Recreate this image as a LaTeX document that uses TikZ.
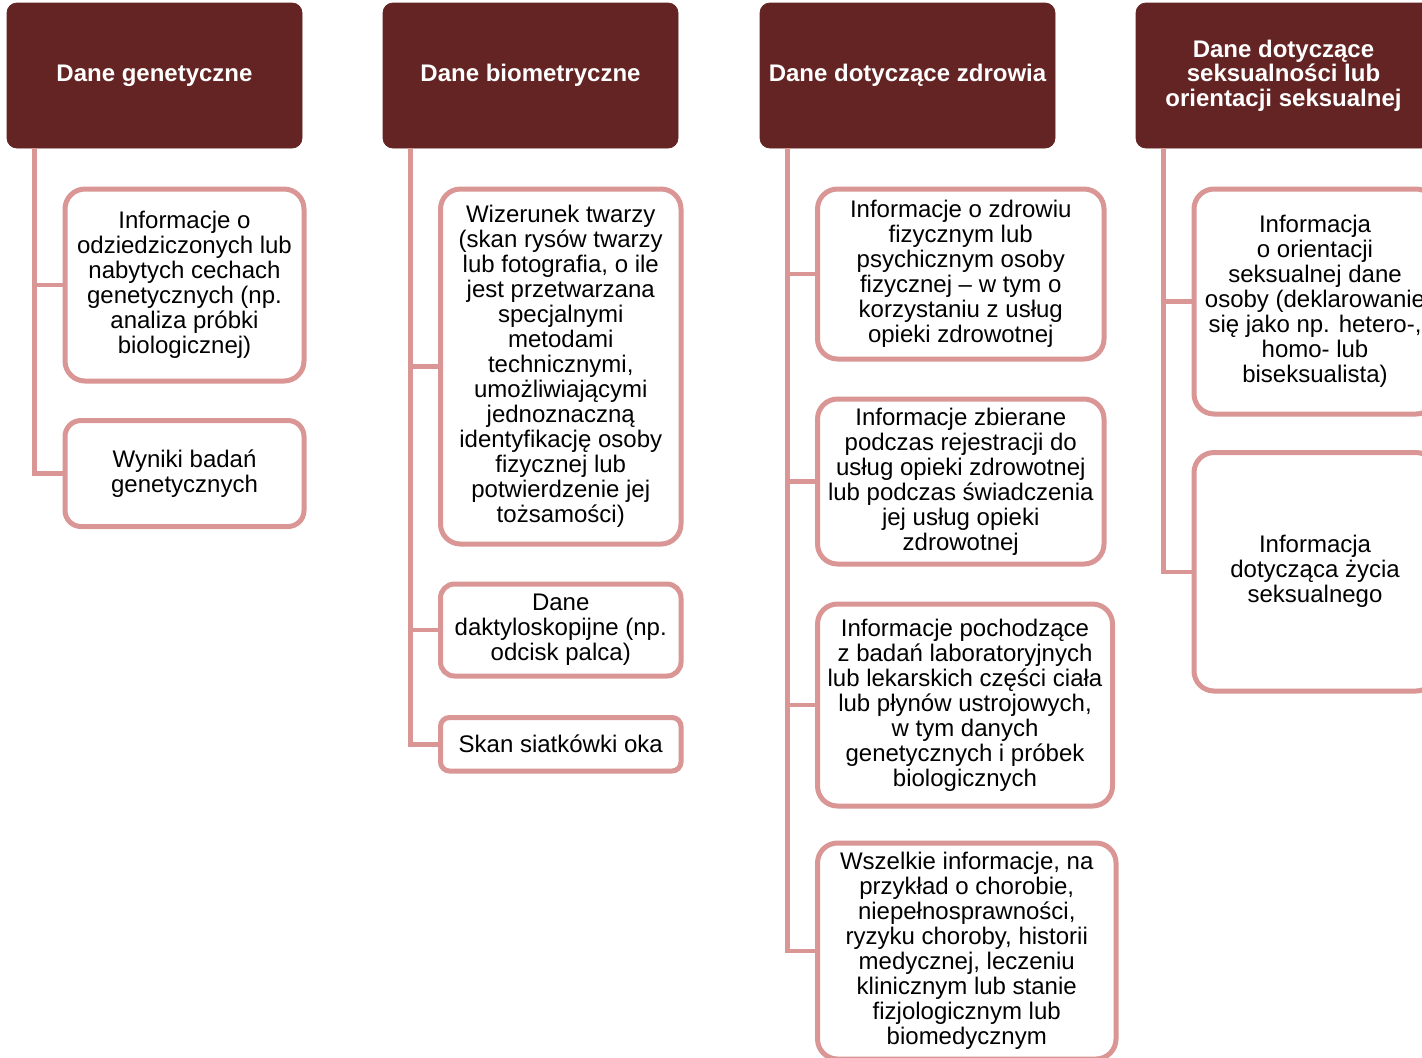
\documentclass[tikz,border=0pt]{standalone}
\usepackage{fontspec}
\setmainfont{Liberation Sans}
\usetikzlibrary{positioning}
\definecolor{headred}{HTML}{632423}
\definecolor{linepink}{HTML}{D99694}
\tikzset{
  head/.style={fill=headred,draw=headred,rounded corners=5pt,text=white,align=center,inner sep=0pt,
    minimum width=147.5pt,minimum height=72.5pt,font=\fontsize{12}{12.3}\selectfont\bfseries},
  leaf/.style={draw=linepink,fill=white,line width=2.5pt,rounded corners=10pt,align=center,inner sep=0pt,
    font=\fontsize{12}{12.5}\selectfont},
  conn/.style={draw=linepink,line width=2.25pt}
}

\begin{document}
\begin{tikzpicture}[x=0.5pt,y=-0.5pt]
  \useasboundingbox (0,0) rectangle (1422,1057);
  \fill[white] (0,0) rectangle (1422,1057);
  % headers
  \node[head] (gen) at (154.5,75.5) {\raisebox{-1pt}{Dane genetyczne}};
  \node[head] (bio) at (530.5,75.5) {\raisebox{-1pt}{Dane biometryczne}};
  \node[head] (zdr) at (907.5,75.5) {\raisebox{-1pt}{Dane dotyczące zdrowia}};
  \node[head] (sek) at (1283.5,75.5) {Dane dotyczące\\seksualności lub\\orientacji seksualnej};
  % genetyczne
  \node[leaf,minimum width=119.5pt,minimum height=96pt] (gen1) at (184.5,285)
    {Informacje o\\odziedziczonych lub\\nabytych cechach\\genetycznych (np.\\analiza próbki\\biologicznej)};
  \node[leaf,minimum width=119.5pt,minimum height=53pt,rounded corners=8pt] (gen2) at (184.5,473.5)
    {Wyniki badań\\genetycznych};
  % biometryczne
  \node[leaf,minimum width=120.25pt,minimum height=177.5pt] (bio1) at (560.75,366.5)
    {Wizerunek twarzy\\(skan rysów twarzy\\lub fotografia, o ile\\jest przetwarzana\\specjalnymi\\metodami\\technicznymi,\\umożliwiającymi\\jednoznaczną\\identyfikację osoby\\fizycznej lub\\potwierdzenie jej\\tożsamości)};
  \node[leaf,minimum width=120.25pt,minimum height=46pt,rounded corners=7pt] (bio2) at (560.75,630)
    {Dane\\daktyloskopijne (np.\\odcisk palca)};
  \node[leaf,minimum width=120.25pt,minimum height=26.75pt,rounded corners=4.5pt] (bio3) at (560.75,744.25)
    {Skan siatkówki oka};
  % zdrowie
  \node[leaf,minimum width=143.25pt,minimum height=85pt] (zdr1) at (960.75,274)
    {Informacje o zdrowiu\\fizycznym lub\\psychicznym osoby\\fizycznej – w tym o\\korzystaniu z usług\\opieki zdrowotnej};
  \node[leaf,minimum width=143.25pt,minimum height=82.5pt] (zdr2) at (960.75,481.5)
    {Informacje zbierane\\podczas rejestracji do\\usług opieki zdrowotnej\\lub podczas świadczenia\\jej usług opieki\\zdrowotnej};
  \node[leaf,minimum width=147.5pt,minimum height=101pt] (zdr3) at (965,705)
    {Informacje pochodzące\\z badań laboratoryjnych\\lub lekarskich części ciała\\lub płynów ustrojowych,\\w tym danych\\genetycznych i próbek\\biologicznych};
  \node[leaf,minimum width=149.25pt,minimum height=108pt] (zdr4) at (966.75,951)
    {Wszelkie informacje, na\\przykład o chorobie,\\niepełnosprawności,\\ryzyku choroby, historii\\medycznej, leczeniu\\klinicznym lub stanie\\fizjologicznym lub\\biomedycznym};
  % seksualnosc
  \node[leaf,minimum width=121pt,minimum height=112.5pt] (sek1) at (1315,301.5)
    {Informacja\\o orientacji\\seksualnej dane\\osoby (deklarowanie\\się jako np. hetero-,\\homo- lub\\biseksualista)};
  \node[leaf,minimum width=121pt,minimum height=119.25pt] (sek2) at (1315,571.75)
    {Informacja\\dotycząca życia\\seksualnego};
  % connectors
  \foreach \h/\c in {gen/gen1,gen/gen2,bio/bio1,bio/bio2,bio/bio3,zdr/zdr1,zdr/zdr2,zdr/zdr3,zdr/zdr4,sek/sek1,sek/sek2}
    \draw[conn] ([xshift=14pt]\h.south west) |- (\c.west);
\end{tikzpicture}
\end{document}
